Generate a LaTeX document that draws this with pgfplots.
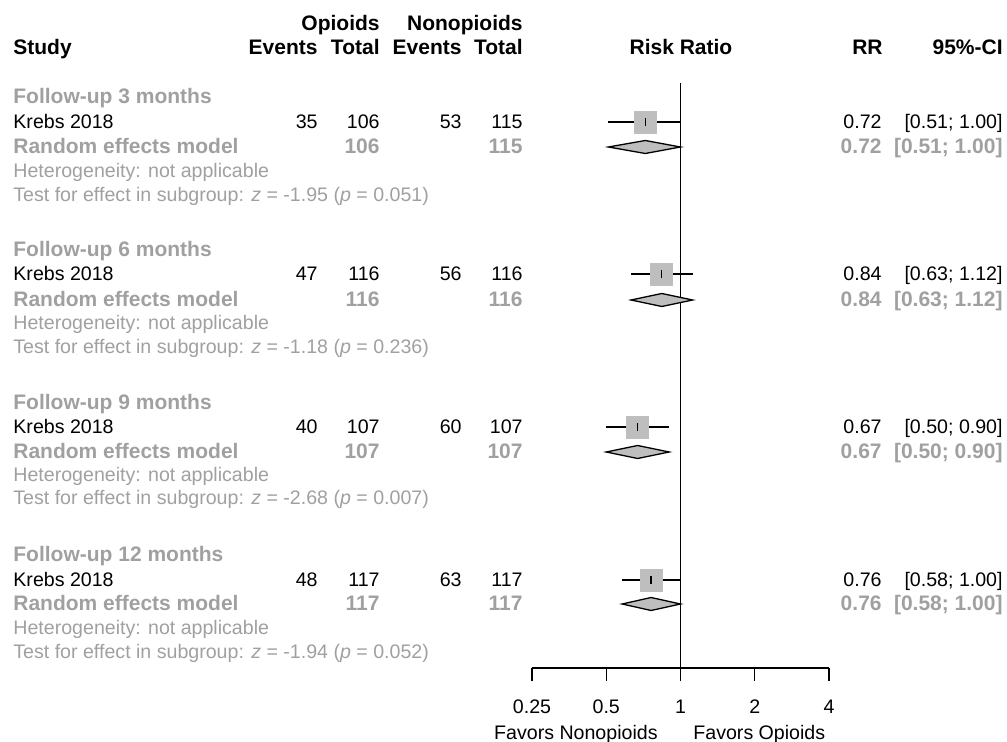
\documentclass[border=0pt]{standalone}
\usepackage{pgfplots}
\pgfplotsset{compat=1.18}
\usepackage{fontspec}
\setmainfont{Liberation Sans}
\definecolor{tg}{RGB}{160,160,160}
\definecolor{boxg}{RGB}{190,190,190}
\newcommand\fs{\fontsize{9.8}{12}\selectfont}
\newcommand\fb{\fontsize{10.5}{12}\selectfont\bfseries}
\begin{document}
\begin{tikzpicture}[font=\fs]
\path[use as bounding box] (0,0) rectangle (503.5pt,-371pt);
\begin{axis}[
  at={(266pt,-334pt)}, anchor=south west,
  width=148.5pt, height=292.5pt, scale only axis,
  xmode=log, log basis x=2, xmin=0.25, xmax=4,
  ymin=-668, ymax=-83,
  axis x line*=bottom, axis y line=none,
  axis line style={-, black, line width=0.65pt},
  xtick={0.25,0.5,1,2,4}, xticklabels={0.25,0.5,1,2,4},
  tick align=outside, major tick length=6.5pt,
  every tick/.style={black, line width=0.65pt},
  xticklabel style={font=\fs, anchor=base, yshift=-16pt},
  clip=false,
]
% reference line at RR = 1
\addplot[black, line width=0.65pt] coordinates {(1,-668) (1,-83)};
% confidence intervals of the studies
\addplot[black, line width=0.65pt] coordinates {(0.51,-122) (1.00,-122)};
\addplot[black, line width=0.65pt] coordinates {(0.63,-274) (1.12,-274)};
\addplot[black, line width=0.65pt] coordinates {(0.50,-427) (0.90,-427)};
\addplot[black, line width=0.65pt] coordinates {(0.58,-580) (1.00,-580)};
% study squares
\addplot[only marks, mark=square*, color=boxg, mark size=5.5pt]
  coordinates {(0.72,-122) (0.84,-274) (0.67,-427) (0.76,-580)};
\addplot[only marks, mark=|, mark size=1.8pt, mark options={black, line width=0.65pt}]
  coordinates {(0.72,-122) (0.84,-274) (0.67,-427) (0.76,-580)};
% pooled diamonds
\addplot[fill=boxg, draw=black, line width=0.65pt] coordinates {(0.51,-147) (0.72,-140.5) (1.00,-147) (0.72,-153.5)} --cycle;
\addplot[fill=boxg, draw=black, line width=0.65pt] coordinates {(0.63,-300) (0.84,-293.5) (1.12,-300) (0.84,-306.5)} --cycle;
\addplot[fill=boxg, draw=black, line width=0.65pt] coordinates {(0.50,-452) (0.67,-445.5) (0.90,-452) (0.67,-458.5)} --cycle;
\addplot[fill=boxg, draw=black, line width=0.65pt] coordinates {(0.58,-604) (0.76,-597.5) (1.00,-604) (0.76,-610.5)} --cycle;
\end{axis}
\begin{scope}[x=0.5pt, y=-0.5pt, every node/.style={inner sep=0pt, font=\fs}]
% headers
\node[anchor=base east, font=\fb] at (380,31) {Opioids};
\node[anchor=base east, font=\fb] at (523,31) {Nonopioids};
\node[anchor=base west, font=\fb] at (13,55) {Study};
\node[anchor=base east, font=\fb] at (318,55) {Events};
\node[anchor=base east, font=\fb] at (380,55) {Total};
\node[anchor=base east, font=\fb] at (462,55) {Events};
\node[anchor=base east, font=\fb] at (523,55) {Total};
\node[anchor=base, font=\fb] at (681,55) {Risk Ratio};
\node[anchor=base east, font=\fb] at (883,55) {RR};
\node[anchor=base east, font=\fb] at (1003,55) {95\%-CI};
% groups
\foreach \s/\r/\h/\q/\ea/\ta/\eb/\tb/\rr/\ci/\z/\p in {
  122/147/171/195/35/106/53/115/0.72/{[0.51; 1.00]}/-1.95/0.051,
  274/300/323/347/47/116/56/116/0.84/{[0.63; 1.12]}/-1.18/0.236,
  427/452/475/498/40/107/60/107/0.67/{[0.50; 0.90]}/-2.68/0.007,
  580/604/628/652/48/117/63/117/0.76/{[0.58; 1.00]}/-1.94/0.052}{
  \node[anchor=base east] at (318,\s+7) {\ea};
  \node[anchor=base east] at (380,\s+7) {\ta};
  \node[anchor=base east] at (462,\s+7) {\eb};
  \node[anchor=base east] at (523,\s+7) {\tb};
  \node[anchor=base east] at (882,\s+7) {\rr};
  \node[anchor=base east] at (1003,\s+7) {\ci};
  \node[anchor=base east, text=tg, font=\fb] at (380,\r+7) {\ta};
  \node[anchor=base east, text=tg, font=\fb] at (523,\r+7) {\tb};
  \node[anchor=base east, text=tg, font=\fb] at (882,\r+7) {\rr};
  \node[anchor=base east, text=tg, font=\fb] at (1003,\r+7) {\ci};
  \node[anchor=base west, text=tg] at (13,\h+7) {Heterogeneity: not applicable};
  \node[anchor=base west, text=tg] at (13,\q+7) {Test for effect in subgroup: \textit{z} = \z\ (\textit{p} = \p)};
  \node[anchor=base west, text=black] at (13,\s+7) {Krebs 2018};
  \node[anchor=base west, text=tg, font=\fb] at (13,\r+7) {Random effects model};
}
\node[anchor=base west, text=tg, font=\fb] at (13,104) {Follow-up 3 months};
\node[anchor=base west, text=tg, font=\fb] at (13,257) {Follow-up 6 months};
\node[anchor=base west, text=tg, font=\fb] at (13,410) {Follow-up 9 months};
\node[anchor=base west, text=tg, font=\fb] at (13,562) {Follow-up 12 months};
% direction labels
\node[anchor=base east] at (658,740) {Favors Nonopioids};
\node[anchor=base west] at (693,740) {Favors Opioids};
\end{scope}
\end{tikzpicture}
\end{document}
